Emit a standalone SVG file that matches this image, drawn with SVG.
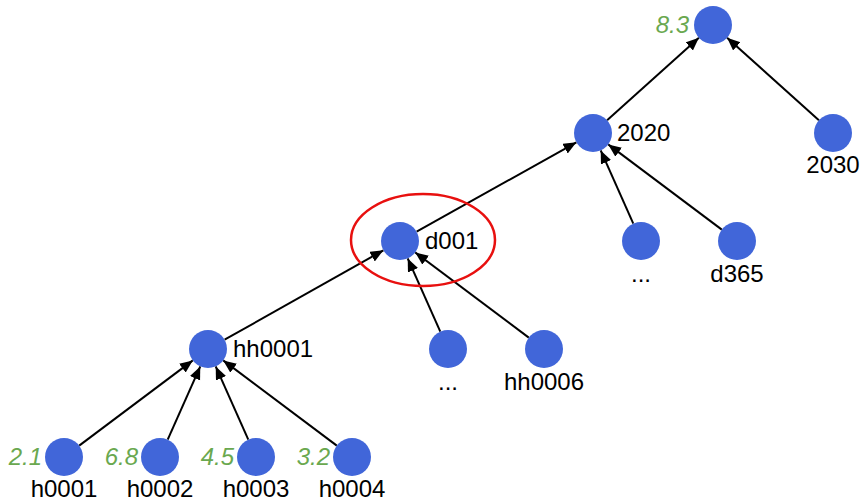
<svg xmlns="http://www.w3.org/2000/svg" width="863" height="501" viewBox="0 0 863 501">
<style>
.n{fill:#4166d9}
.t{font-family:"Liberation Sans",Arial,sans-serif;font-size:24px;fill:#000}
.c{text-anchor:middle}
.v{font-family:"Liberation Sans",Arial,sans-serif;font-size:24px;font-style:italic;fill:#6aa84f;text-anchor:end}
.e{stroke:#000;stroke-width:2;fill:none;marker-end:url(#a)}
</style>
<defs>
<marker id="a" markerUnits="userSpaceOnUse" markerWidth="14" markerHeight="12" refX="13" refY="5.5" orient="auto">
<path d="M0,0 L13,5.5 L0,11 Z" fill="#000"/>
</marker>
</defs>
<rect width="863" height="501" fill="#fff"/>
<g id="connectors">
<line class="e" x1="607.1" y1="120.3" x2="698.9" y2="37.7"/>
<line class="e" x1="818.9" y1="120.3" x2="727.1" y2="37.7"/>
<line class="e" x1="416.6" y1="231.7" x2="576.4" y2="142.3"/>
<line class="e" x1="633.3" y1="223.6" x2="600.7" y2="150.4"/>
<line class="e" x1="721.8" y1="229.6" x2="608.2" y2="144.4"/>
<line class="e" x1="224.6" y1="339.7" x2="383.4" y2="250.3"/>
<line class="e" x1="440.3" y1="331.6" x2="407.7" y2="258.4"/>
<line class="e" x1="528.8" y1="337.6" x2="415.2" y2="252.4"/>
<line class="e" x1="79.2" y1="445.6" x2="192.8" y2="360.4"/>
<line class="e" x1="167.7" y1="439.6" x2="200.3" y2="366.4"/>
<line class="e" x1="248.3" y1="439.6" x2="215.7" y2="366.4"/>
<line class="e" x1="336.8" y1="445.6" x2="223.2" y2="360.4"/>
</g>
<g id="top"><circle class="n" cx="713" cy="25" r="19"/><text class="v" x="689" y="33">8.3</text></g>
<g id="y2020"><circle class="n" cx="593" cy="133" r="19"/><text class="t" x="617" y="141">2020</text></g>
<g id="y2030"><circle class="n" cx="833" cy="133" r="19"/><text class="t c" x="833" y="173">2030</text></g>
<g id="d001"><circle class="n" cx="400" cy="241" r="19"/><text class="t" x="425" y="249">d001</text>
<ellipse cx="423" cy="240" rx="72" ry="46" fill="none" stroke="#e8100f" stroke-width="2.5"/></g>
<g id="dots2020"><circle class="n" cx="641" cy="241" r="19"/><text class="t c" x="641" y="282">...</text></g>
<g id="d365"><circle class="n" cx="737" cy="241" r="19"/><text class="t c" x="737" y="282">d365</text></g>
<g id="hh0001"><circle class="n" cx="208" cy="349" r="19"/><text class="t" x="233" y="357">hh0001</text></g>
<g id="dotsd001"><circle class="n" cx="448" cy="349" r="19"/><text class="t c" x="448" y="390">...</text></g>
<g id="hh0006"><circle class="n" cx="544" cy="349" r="19"/><text class="t c" x="544" y="390">hh0006</text></g>
<g id="h0001"><circle class="n" cx="64" cy="457" r="19"/><text class="v" x="42" y="465">2.1</text><text class="t c" x="64" y="497">h0001</text></g>
<g id="h0002"><circle class="n" cx="160" cy="457" r="19"/><text class="v" x="138" y="465">6.8</text><text class="t c" x="160" y="497">h0002</text></g>
<g id="h0003"><circle class="n" cx="256" cy="457" r="19"/><text class="v" x="234" y="465">4.5</text><text class="t c" x="256" y="497">h0003</text></g>
<g id="h0004"><circle class="n" cx="352" cy="457" r="19"/><text class="v" x="330" y="465">3.2</text><text class="t c" x="352" y="497">h0004</text></g>
</svg>
